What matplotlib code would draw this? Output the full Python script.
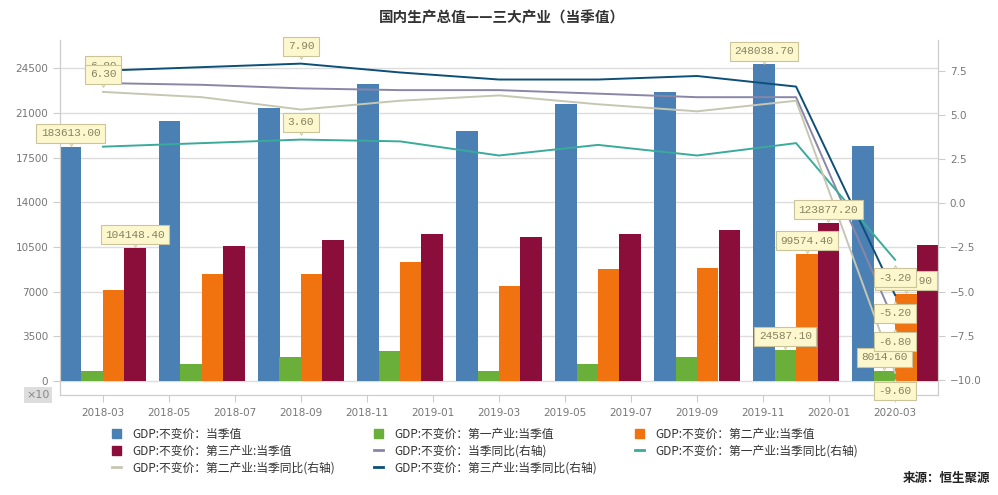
import matplotlib.pyplot as plt
from matplotlib.patches import Patch
from matplotlib.lines import Line2D
from matplotlib.transforms import offset_copy
import numpy as np

plt.rcParams['font.family'] = ['Noto Sans CJK SC', 'DejaVu Sans']

# quarterly data, 亿元 (left axis shows value / 10)
quarters = ['2018-03', '2018-06', '2018-09', '2018-12', '2019-03',
            '2019-06', '2019-09', '2019-12', '2020-03']
tick_labels = ['2018-03', '2018-05', '2018-07', '2018-09', '2018-11', '2019-01',
               '2019-03', '2019-05', '2019-07', '2019-09', '2019-11', '2020-01', '2020-03']

gdp_total = [183613.0, 203430, 213820, 232780, 196150, 217190, 226550, 248038.7, 183900]
gdp_primary = [8210, 13250, 18450, 23120, 8090, 13250, 18970, 24587.1, 8014.6]
gdp_secondary = [71660, 83920, 84000, 93530, 74560, 87810, 88330, 99574.4, 68106.9]
gdp_tertiary = [104148.4, 105740, 110420, 115090, 112750, 115090, 118210, 123877.2, 106780]

yoy_total = [6.8, 6.7, 6.5, 6.4, 6.4, 6.2, 6.0, 6.0, -6.8]
yoy_primary = [3.2, 3.4, 3.6, 3.5, 2.7, 3.3, 2.7, 3.4, -3.2]
yoy_secondary = [6.3, 6.0, 5.3, 5.8, 6.1, 5.6, 5.2, 5.8, -9.6]
yoy_tertiary = [7.5, 7.7, 7.9, 7.4, 7.0, 7.0, 7.2, 6.6, -5.2]

names_bar = ['GDP:不变价：当季值', 'GDP:不变价：第一产业:当季值',
             'GDP:不变价：第二产业:当季值', 'GDP:不变价：第三产业:当季值']
names_line = ['GDP:不变价：当季同比(右轴)', 'GDP:不变价：第一产业:当季同比(右轴)',
              'GDP:不变价：第二产业:当季同比(右轴)', 'GDP:不变价：第三产业:当季同比(右轴)']
bar_colors = ['#4a80b4', '#6aaf3a', '#f0730f', '#8b0e3a']
line_colors = ['#8a86a8', '#3aab9b', '#c6c7b2', '#0d4f78']


def month_index(s):
    y, m = s.split('-')
    return (int(y) - 2018) * 12 + int(m) - 3


x = np.array([month_index(q) for q in quarters])
xt = [month_index(t) for t in tick_labels]

fig = plt.figure(figsize=(9.98, 4.95), dpi=100)
ax = fig.add_axes([60 / 998, 100 / 495, 878 / 998, 355 / 495])
ax2 = ax.twinx()

w = 0.65
bars = [gdp_total, gdp_primary, gdp_secondary, gdp_tertiary]
for i, vals in enumerate(bars):
    ax.bar(x + (i - 1.5) * w, np.array(vals) / 10, width=w, color=bar_colors[i],
           label=names_bar[i], zorder=2)

lines = [yoy_total, yoy_primary, yoy_secondary, yoy_tertiary]
for i, vals in enumerate(lines):
    ax2.plot(x, vals, color=line_colors[i], lw=1.4, label=names_line[i], zorder=3)

ax.set_xlim(-1.3, 25.3)
ax.set_ylim(-1097, 26717)
ax2.set_ylim(-10.855, 9.237)
ax.set_yticks(np.arange(0, 24501, 3500))
ax2.set_yticks(np.arange(-10, 7.6, 2.5))
ax.set_xticks(xt)
ax.set_xticklabels(tick_labels)

grey = '#777777'
for a in (ax, ax2):
    for s in a.spines.values():
        s.set_color('#cccccc')
    a.spines['top'].set_visible(False)
    a.tick_params(colors='#cccccc', labelcolor=grey, labelsize=7.5, length=5)
ax.tick_params(axis='x', pad=4)
ax.yaxis.grid(True, color='#dddddd', lw=1)
ax.set_axisbelow(True)
for lab in ax.get_xticklabels() + ax.get_yticklabels() + ax2.get_yticklabels():
    lab.set_family('DejaVu Sans')

box_fc, box_ec = '#fcf7cc', '#cbc39a'
box = dict(boxstyle='square,pad=0.4', fc=box_fc, ec=box_ec, lw=0.8)
tstyle = dict(family='Liberation Mono', fontsize=8, color='#8a8262', ha='center',
              bbox=box, textcoords='offset points', zorder=10, annotation_clip=False)


def pointer(xv, yv, dy, up, trans):
    # small notch under the label box, pointing at its value
    t = offset_copy(trans, fig=fig, x=0, y=dy, units='points')
    ax2.plot([xv], [yv], transform=t, marker='^' if up else 'v', ms=4.5,
             mfc=box_fc, mec=box_ec, mew=0.6, zorder=9, clip_on=False)


# max / min labels of bar series
for i, vals in enumerate(bars):
    v = np.array(vals)
    for j in (int(v.argmax()), int(v.argmin())):
        xb = x[j] + (i - 1.5) * w
        ax2.annotate(f'{v[j]:.2f}', xy=(xb, v[j] / 10), xycoords=ax.transData,
                     xytext=(0, 6), va='bottom', **tstyle)
        pointer(xb, v[j] / 10, 2.8, False, ax.transData)

# max / min labels of line series
for i, vals in enumerate(lines):
    v = np.array(vals)
    j = int(v.argmax())
    ax2.annotate(f'{v[j]:.2f}', xy=(x[j], v[j]), xytext=(0, 9), va='bottom', **tstyle)
    pointer(x[j], v[j], 5.8, False, ax2.transData)
    j = int(v.argmin())
    ax2.annotate(f'{v[j]:.2f}', xy=(x[j], v[j]), xytext=(0, -9.5), va='top', **tstyle)
    pointer(x[j], v[j], -6.3, True, ax2.transData)

fig.text(38 / 998, 1 - 395 / 495, '×10', ha='center', va='center', fontsize=8,
         color='#888888', family='DejaVu Sans',
         bbox=dict(boxstyle='square,pad=0.25', fc='#dddddd', ec='none'))

# legend, row-major in three columns
h_bar = [Patch(color=c) for c in bar_colors]
h_line = [Line2D([], [], color=c, lw=2) for c in line_colors]
handles = [h_bar[0], h_bar[1], h_bar[2], h_bar[3], h_line[0], h_line[1], h_line[2], h_line[3]]
labels = names_bar + names_line
col_x = [112, 374, 635]
for c in range(3):
    idx = list(range(c, 8, 3))
    leg = fig.legend([handles[k] for k in idx], [labels[k] for k in idx],
                     loc='upper left', bbox_to_anchor=(col_x[c] / 998, 1 - 428 / 495),
                     frameon=False, fontsize=8.5, handlelength=0.8, handleheight=0.8,
                     handletextpad=0.9, borderpad=0, borderaxespad=0, labelspacing=0.3)
    for t in leg.get_texts():
        t.set_color('#333333')

fig.text(0.503, 1 - 17 / 495, '国内生产总值——三大产业（当季值）', ha='center', va='center',
         fontsize=10.5, fontweight='bold', color='#333333')
fig.text(990 / 998, 1 - 478 / 495, '来源：恒生聚源', ha='right', va='center',
         fontsize=9, fontweight='bold', color='#222222')

fig.savefig('out.png', dpi=100)
